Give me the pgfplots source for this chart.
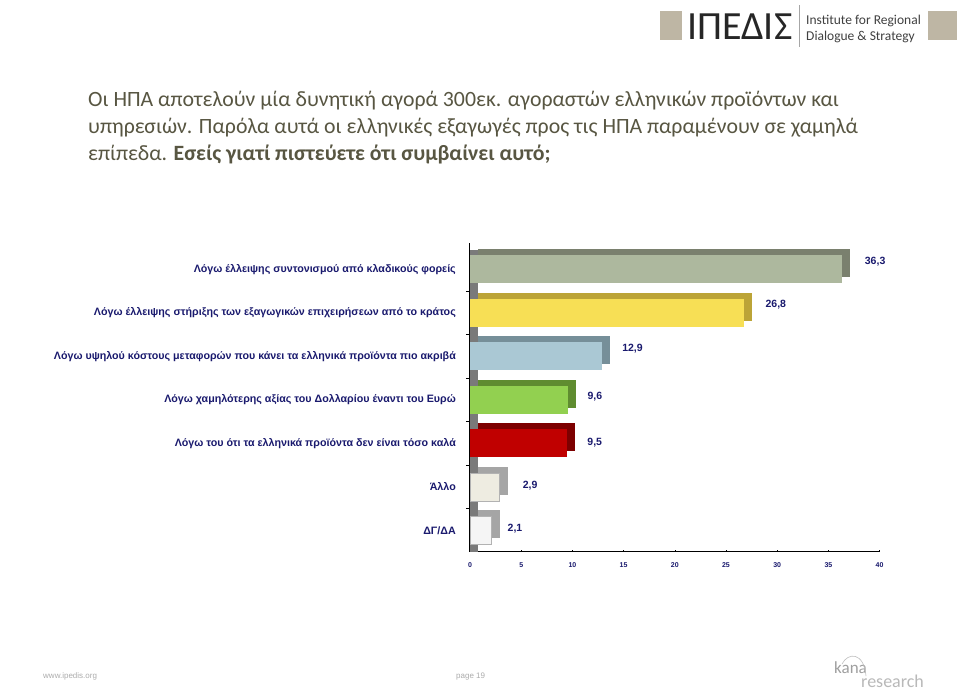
\documentclass[border=0pt]{standalone}
\usepackage{fontspec}
\setmainfont{Carlito}
\newfontfamily\arial{Liberation Sans}
\usepackage{pgfplots}
\pgfplotsset{compat=1.18}
\definecolor{navy}{RGB}{26,26,110}
\definecolor{titlec}{RGB}{88,86,66}
\definecolor{logosq}{RGB}{190,182,164}
\definecolor{fA}{RGB}{173,184,158}\definecolor{sA}{RGB}{122,128,110}
\definecolor{fB}{RGB}{247,223,85}\definecolor{sB}{RGB}{188,164,55}
\definecolor{fC}{RGB}{170,200,212}\definecolor{sC}{RGB}{118,143,153}
\definecolor{fD}{RGB}{146,208,80}\definecolor{sD}{RGB}{95,140,48}
\definecolor{fE}{RGB}{192,0,0}\definecolor{sE}{RGB}{125,0,0}
\definecolor{fF}{RGB}{238,236,225}\definecolor{sF}{RGB}{165,165,165}
\definecolor{fG}{RGB}{245,245,245}\definecolor{sG}{RGB}{165,165,165}
\begin{document}
\begin{tikzpicture}[x=1pt,y=1pt]
\path[use as bounding box, fill=white] (0,0) rectangle (959,691);
% logo
\fill[logosq] (660,651) rectangle (682,680);
\fill[logosq] (928,651) rectangle (957,680);
\draw[gray!70, line width=0.8pt] (799,644) -- (799,686);
\node[anchor=base west, inner sep=0, text=black!85, font=\fontsize{40}{40}\selectfont] at (687,651) {ΙΠΕΔΙΣ};
\node[anchor=base west, inner sep=0, text=black!75, font=\fontsize{13.5}{14}\selectfont] at (806,666) {Institute for Regional};
\node[anchor=base west, inner sep=0, text=black!75, font=\fontsize{13.5}{14}\selectfont] at (806,650) {Dialogue \& Strategy};
% title
\node[anchor=base west, inner sep=0, text=titlec, font=\fontsize{21.8}{27}\selectfont] at (88,584) {Οι ΗΠΑ αποτελούν μία δυνητική αγορά 300εκ. αγοραστών ελληνικών προϊόντων και};
\node[anchor=base west, inner sep=0, text=titlec, font=\fontsize{21.8}{27}\selectfont] at (88,557) {υπηρεσιών. Παρόλα αυτά οι ελληνικές εξαγωγές προς τις ΗΠΑ παραμένουν σε χαμηλά};
\node[anchor=base west, inner sep=0, text=titlec, font=\fontsize{21.8}{27}\selectfont] at (88,530) {επίπεδα. \textbf{Εσείς γιατί πιστεύετε ότι συμβαίνει αυτό;}};
% footer
\node[anchor=base west, inner sep=0, text=gray!65, font=\arial\fontsize{8}{9}\selectfont] at (43,12) {www.ipedis.org};
\node[anchor=base west, inner sep=0, text=gray!65, font=\arial\fontsize{8}{9}\selectfont] at (456,12) {page 19};
\node[anchor=base west, inner sep=0, text=gray!75, font=\fontsize{17}{17}\selectfont] at (834,17) {kana};
\node[anchor=base west, inner sep=0, text=gray!55, font=\fontsize{18}{18}\selectfont] at (861,3) {research};
\draw[gray!50, line width=0.6pt] (842,27) .. controls (848,39) and (864,39) .. (866,15);
\begin{axis}[
  at={(470pt,139pt)}, anchor=south west,
  scale only axis, width=409.6pt, height=309pt,
  xmin=0, xmax=40, ymin=-0.5, ymax=6.6,
  clip=false,
  xbar, bar width=28pt, bar shift=0pt,
  axis x line*=bottom, axis y line*=left,
  axis line style={black, line width=1pt},
  xtick={0,5,...,40},
  ytick={0,...,6},
  yticklabels={ΔΓ/ΔΑ, Άλλο, Λόγω του ότι τα ελληνικά προϊόντα δεν είναι τόσο καλά, Λόγω χαμηλότερης αξίας του Δολλαρίου έναντι του Ευρώ, Λόγω υψηλού κόστους μεταφορών που κάνει τα ελληνικά προϊόντα πιο ακριβά, Λόγω έλλειψης στήριξης των εξαγωγικών επιχειρήσεων από το κράτος, Λόγω έλλειψης συντονισμού από κλαδικούς φορείς},
  ytick style={draw=none},
  extra y ticks={0.5,1.5,2.5,3.5,4.5,5.5},
  extra y tick labels={},
  extra y tick style={ytick style={draw=black, thin}, tick align=outside, major tick length=4pt},
  xtick style={black, thin},
  major tick length=2pt,
  /pgf/number format/assume math mode=true,
  xticklabel style={font=\arial\bfseries\fontsize{7}{8}\selectfont, text=navy, yshift=-7pt},
  yticklabel style={font=\arial\bfseries\fontsize{10.7}{12}\selectfont, text=navy, inner sep=0pt, xshift=-12pt},
  point meta=x,
  nodes near coords={\pgfmathprintnumber[fixed, fixed zerofill, precision=1, use comma]{\pgfplotspointmeta}},
  every node near coord/.append style={anchor=west, inner sep=0pt, font=\arial\bfseries\fontsize{10.5}{12}\selectfont, text=navy},
]
\fill[black!52] (axis cs:0,-0.5) rectangle (axis cs:0.78,6.45);
% depth faces
\addplot[fill=sA, draw=none, xshift=8pt, yshift=6pt, nodes near coords={}] coordinates {(36.3,6)};
\addplot[fill=sB, draw=none, xshift=8pt, yshift=6pt, nodes near coords={}] coordinates {(26.8,5)};
\addplot[fill=sC, draw=none, xshift=8pt, yshift=6pt, nodes near coords={}] coordinates {(12.9,4)};
\addplot[fill=sD, draw=none, xshift=8pt, yshift=6pt, nodes near coords={}] coordinates {(9.6,3)};
\addplot[fill=sE, draw=none, xshift=8pt, yshift=6pt, nodes near coords={}] coordinates {(9.5,2)};
\addplot[fill=sF, draw=none, xshift=8pt, yshift=6pt, nodes near coords={}] coordinates {(2.9,1)};
\addplot[fill=sG, draw=none, xshift=8pt, yshift=6pt, nodes near coords={}] coordinates {(2.1,0)};
% front faces
\addplot[fill=fA, draw=none, every node near coord/.append style={xshift=23pt, yshift=7pt}] coordinates {(36.3,6)};
\addplot[fill=fB, draw=none, every node near coord/.append style={xshift=21pt, yshift=8pt}] coordinates {(26.8,5)};
\addplot[fill=fC, draw=none, every node near coord/.append style={xshift=20pt, yshift=8pt}] coordinates {(12.9,4)};
\addplot[fill=fD, draw=none, every node near coord/.append style={xshift=19pt, yshift=3pt}] coordinates {(9.6,3)};
\addplot[fill=fE, draw=none, every node near coord/.append style={xshift=20pt, yshift=1pt}] coordinates {(9.5,2)};
\addplot[fill=fF, draw=gray!60, every node near coord/.append style={xshift=23pt, yshift=1pt}] coordinates {(2.9,1)};
\addplot[fill=fG, draw=gray!60, every node near coord/.append style={xshift=16pt, yshift=2pt}] coordinates {(2.1,0)};
\end{axis}
\end{tikzpicture}
\end{document}
